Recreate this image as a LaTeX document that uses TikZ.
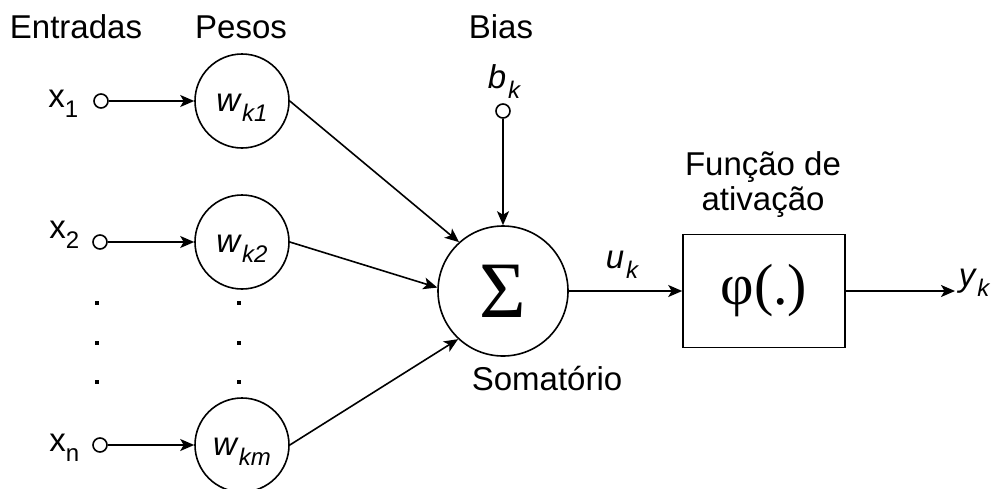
\documentclass[tikz,border=0pt]{standalone}
\usepackage{fontspec}
\setmainfont{Liberation Sans}
\newfontfamily\serifgr{Liberation Serif}
\usetikzlibrary{arrows.meta}
\newcommand\mysub[1]{\raisebox{-10pt}{\fontsize{24}{24}\selectfont #1}}
\begin{document}
\begin{tikzpicture}[x=1pt,y=-1pt,line width=1.6pt,
  lbl/.style={font=\fontsize{33}{40}\selectfont, inner sep=0pt, anchor=base},
  wnode/.style={circle, draw, minimum size=94pt, inner sep=0pt, text height=20pt, text depth=0pt, font=\fontsize{33}{40}\selectfont\itshape},
  port/.style={circle, draw, fill=white, minimum size=14pt, inner sep=0pt},
  arr/.style={-{Stealth[length=14pt,width=12pt,inset=3.5pt]}},
  dotsq/.style={fill=black}
]
\useasboundingbox (0,0) rectangle (998,488);

% headings
\node[lbl] (entradas) at (76,38) {Entradas};
\node[lbl] (pesos) at (241,38) {Pesos};
\node[lbl] (bias) at (501,38) {Bias};

% input ports and labels
\node[port] (p1) at (101,101) {};
\node[port] (p2) at (100,242) {};
\node[port] (pn) at (100,445) {};
\node[lbl, anchor=base east] (x1) at (79,107) {x\mysub{1}};
\node[lbl, anchor=base east] (x2) at (80,238) {x\mysub{2}};
\node[lbl, anchor=base east] (xn) at (80,451) {x\mysub{n}};

% weights
\node[wnode] (w1) at (242,101) {w\kern2pt\mysub{k1}};
\node[wnode] (w2) at (242,242) {w\kern2pt\mysub{k2}};
\node[wnode] (wm) at (242,445) {w\kern2pt\mysub{km}};

% dots
\foreach \yy in {303,343,382}{
  \fill[dotsq] (95,\yy-2) rectangle +(4,4);
  \fill[dotsq] (237,\yy-2) rectangle +(4,4);
}

% summation
\node[circle, draw, minimum size=130pt, inner sep=0pt, font=\serifgr\fontsize{80}{88}\selectfont] (sum) at (503,291) {Σ};
\node[lbl] (somat) at (547,390) {Somatório};

% bias
\node[lbl, anchor=base west] (bk) at (487,88) {\itshape b\kern2pt\mysub{k}};
\node[port] (pb) at (503,111) {};

% activation
\node[draw, rectangle, minimum width=162pt, minimum height=113pt, inner sep=0pt, font=\serifgr\fontsize{58}{64}\selectfont] (phi) at (764,291) {φ(.)};
\node[lbl] (func1) at (763,175) {Função de};
\node[lbl] (func2) at (763,210) {ativação};
\node[lbl, anchor=base west] (uk) at (605,268) {\itshape u\kern2pt\mysub{k}};
\coordinate (out) at (955,291);
\node[lbl, anchor=base west] (yk) at (958,286) {\itshape y\kern2pt\mysub{k}};

% connectors
\draw[arr] (p1) -- (w1);
\draw[arr] (p2) -- (w2);
\draw[arr] (pn) -- (wm);
\draw[arr] (w1.east) -- (sum.132);
\draw[arr] (w2.east) -- (sum.177);
\draw[arr] (wm.east) -- (sum.227);
\draw[arr] (pb) -- (sum);
\draw[arr] (sum) -- (phi);
\draw[arr] (phi) -- (out);
\end{tikzpicture}
\end{document}
